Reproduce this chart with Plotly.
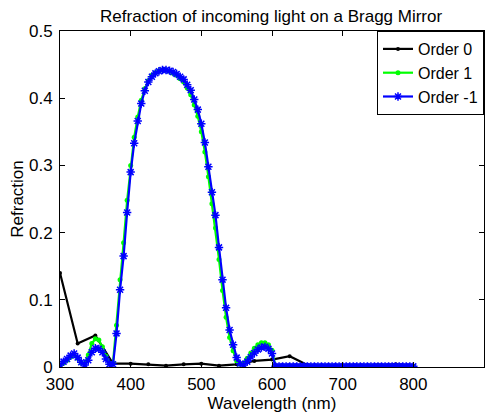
import plotly.graph_objects as go

# wavelength grids (nm)
wl_order0 = [300, 325, 350, 375, 400, 425, 450, 475, 500, 525, 550, 575, 600,
             625, 650, 675, 700, 725, 750, 775, 800]
wl_orders = list(range(300, 805, 5))

refr_order0 = [0.140, 0.035, 0.047, 0.005, 0.005, 0.004, 0.002, 0.004, 0.005, 0.002,
               0.004, 0.009, 0.011, 0.016, 0.003, 0.002, 0.002, 0.002, 0.003, 0.004, 0.002]

refr_order1 = [0.002, 0.006, 0.010, 0.015, 0.018, 0.013, 0.006, 0.005, 0.018, 0.035,
               0.042, 0.040, 0.030, 0.016, 0.005, 0.006, 0.062, 0.130, 0.185, 0.248,
               0.300, 0.342, 0.372, 0.397, 0.414, 0.426, 0.434, 0.438, 0.441, 0.442,
               0.442, 0.440, 0.437, 0.434, 0.429, 0.424, 0.415, 0.405, 0.390, 0.373,
               0.350, 0.320, 0.283, 0.243, 0.207, 0.160, 0.114, 0.074, 0.044, 0.024,
               0.009, 0.004, 0.006, 0.013, 0.021, 0.028, 0.033, 0.036, 0.036, 0.033,
               0.025] + [0.001] * 40

refr_order_m1 = [0.003, 0.008, 0.012, 0.017, 0.020, 0.014, 0.007, 0.003, 0.010, 0.022,
                 0.028, 0.027, 0.022, 0.012, 0.004, 0.004, 0.050, 0.115, 0.165, 0.230,
                 0.290, 0.333, 0.366, 0.392, 0.411, 0.424, 0.432, 0.437, 0.440, 0.442,
                 0.442, 0.441, 0.439, 0.436, 0.432, 0.428, 0.420, 0.412, 0.398, 0.383,
                 0.362, 0.334, 0.298, 0.260, 0.226, 0.178, 0.130, 0.088, 0.055, 0.033,
                 0.014, 0.005, 0.003, 0.008, 0.015, 0.021, 0.026, 0.029, 0.030, 0.027,
                 0.020] + [0.001] * 40

fig = go.Figure()
fig.add_trace(go.Scatter(x=wl_order0, y=refr_order0, mode='lines+markers', name='Order 0',
                         line=dict(color='black', width=2.2),
                         marker=dict(color='black', size=4, symbol='circle')))
fig.add_trace(go.Scatter(x=wl_orders, y=refr_order1, mode='lines+markers', name='Order 1',
                         line=dict(color='#00ff00', width=2.2),
                         marker=dict(color='#00ff00', size=5, symbol='circle')))
fig.add_trace(go.Scatter(x=wl_orders, y=refr_order_m1, mode='lines+markers', name='Order -1',
                         line=dict(color='#0000ff', width=2.2),
                         marker=dict(color='#0000ff', size=7, symbol='asterisk-open',
                                     line=dict(color='#0000ff', width=1.5))))

axis_style = dict(showline=True, linecolor='black', linewidth=1, mirror='ticks',
                  ticks='inside', ticklen=5, tickcolor='black', showgrid=False,
                  zeroline=False, automargin=False, tickfont=dict(size=17, color='black'))

fig.update_xaxes(range=[300, 900], tickvals=[300, 400, 500, 600, 700, 800, 900],
                 ticklabelstandoff=2,
                 title=dict(text='Wavelength (nm)', font=dict(size=17, color='black'), standoff=0),
                 **axis_style)
fig.update_yaxes(range=[0, 0.5], tickvals=[0, 0.1, 0.2, 0.3, 0.4, 0.5],
                 ticktext=['0', '0.1', '0.2', '0.3', '0.4', '0.5'],
                 ticklabelstandoff=3,
                 title=dict(text='Refraction', font=dict(size=17, color='black'), standoff=2),
                 **axis_style)

# the page adds an 8px body margin, so the figure is sized to fit inside it
fig.update_layout(
    width=490, height=405,
    margin=dict(l=52, r=14, t=23, b=46),
    paper_bgcolor='white', plot_bgcolor='white',
    font=dict(family='Liberation Sans, Arial, sans-serif', color='black'),
    title=dict(text='Refraction of incoming light on a Bragg Mirror', x=0.537, xanchor='center',
               xref='container', y=0.979, yref='container', yanchor='middle',
               font=dict(size=17, color='black')),
    legend=dict(x=1, y=1, xanchor='right', yanchor='top', bgcolor='white',
                bordercolor='black', borderwidth=1, font=dict(size=16, color='black'),
                itemwidth=30, tracegroupgap=0),
    showlegend=True,
)

fig.write_html("out.html")
